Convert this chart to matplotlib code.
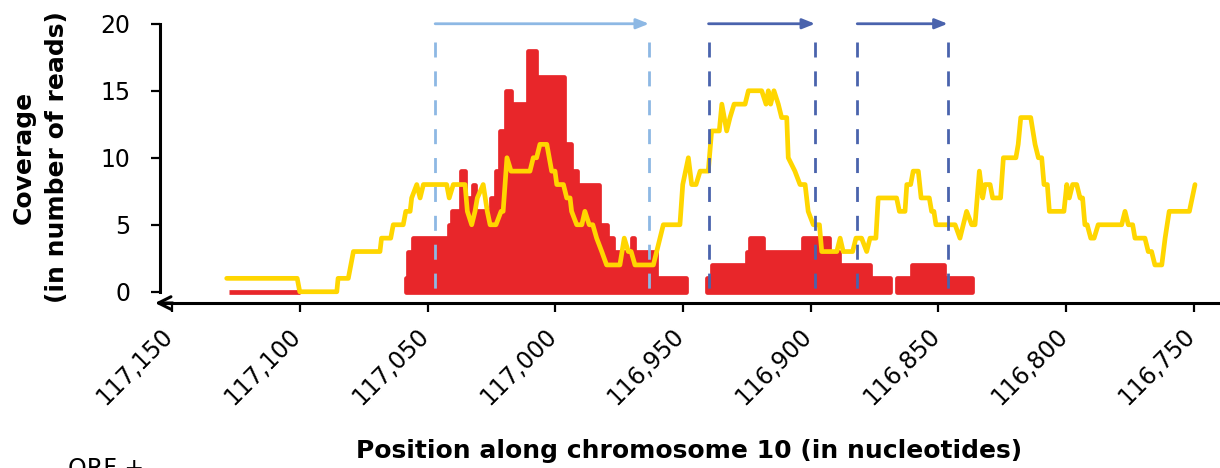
import matplotlib
matplotlib.use('Agg')
import matplotlib.pyplot as plt
from matplotlib.lines import Line2D
from matplotlib.transforms import ScaledTranslation

# coverage of the yellow library, as vertices (position, reads)
yellow_pos = [117128.6, 117101.0, 117100.0, 117085.5, 117085.0, 117081.0, 117079.0, 117068.6, 117068.0, 117064.4,
              117063.4, 117059.5, 117058.5, 117056.8, 117056.2, 117054.2, 117052.9, 117051.6, 117042.5, 117041.5,
              117039.9, 117035.3, 117034.4, 117032.7, 117031.4, 117030.5, 117028.2, 117026.6, 117025.5, 117023.2,
              117021.2, 117020.4, 117018.9, 117017.3, 117009.9, 117008.6, 117007.3, 117006.0, 117003.3, 117001.4,
              117000.1, 116999.4, 116996.8, 116995.5, 116994.2, 116993.6, 116991.6, 116989.6, 116988.4, 116986.7,
              116985.3, 116983.8, 116981.8, 116979.9, 116974.7, 116973.0, 116971.4, 116970.3, 116968.8, 116961.6,
              116960.3, 116957.7, 116951.2, 116950.1, 116947.9, 116946.6, 116944.9, 116943.3, 116940.1, 116938.8,
              116935.8, 116934.8, 116932.9, 116931.6, 116930.0, 116925.7, 116924.4, 116919.2, 116917.5, 116916.6,
              116915.7, 116914.4, 116912.7, 116911.4, 116909.4, 116908.8, 116906.2, 116904.2, 116902.2, 116901.0,
              116899.0, 116896.6, 116895.7, 116889.8, 116888.5, 116887.3, 116883.6, 116882.3, 116880.1, 116878.1,
              116876.8, 116874.5, 116873.6, 116866.4, 116865.3, 116863.1, 116862.4, 116860.9, 116859.9, 116857.9,
              116856.8, 116853.6, 116852.7, 116851.8, 116851.0, 116843.5, 116841.6, 116839.0, 116837.0, 116835.7,
              116834.0, 116832.7, 116831.8, 116829.8, 116828.8, 116825.7, 116824.6, 116819.7, 116818.8, 116817.8,
              116813.9, 116812.2, 116810.9, 116809.6, 116808.7, 116807.4, 116806.6, 116800.9, 116799.8, 116798.8,
              116797.5, 116795.9, 116794.6, 116793.6, 116792.7, 116791.8, 116790.4, 116789.1, 116787.5, 116778.3,
              116777.0, 116775.7, 116774.0, 116773.1, 116769.2, 116767.9, 116766.6, 116765.3, 116762.6, 116761.3,
              116759.7, 116751.8, 116749.6]
yellow_cov = [1, 1, 0, 0, 1, 1, 3, 3, 4, 4,
              5, 5, 6, 6, 7, 8, 7, 8, 8, 7,
              8, 8, 6, 5, 6, 7, 8, 6, 5, 5,
              6, 6, 10, 9, 9, 10, 10, 11, 11, 9,
              9, 8, 8, 7, 7, 6, 5, 5, 6, 5,
              5, 4, 3, 2, 2, 4, 3, 3, 2, 2,
              3, 5, 5, 8, 10, 8, 8, 9, 9, 12,
              12, 14, 12, 13, 14, 14, 15, 15, 14, 15,
              14, 15, 14, 13, 13, 10, 9, 8, 8, 6,
              5, 5, 3, 3, 4, 3, 3, 4, 4, 3,
              4, 4, 7, 7, 6, 6, 8, 8, 9, 9,
              7, 7, 6, 6, 5, 5, 4, 6, 5, 5,
              9, 7, 8, 8, 7, 7, 10, 10, 11, 13,
              13, 11, 10, 10, 8, 8, 6, 6, 8, 7,
              8, 8, 7, 7, 5, 5, 4, 4, 5, 5,
              6, 5, 5, 4, 4, 3, 3, 2, 2, 4,
              6, 6, 8]

# coverage of the red library, as step blocks (edges, reads per step)
red_edges_0 = [117127.7, 117100.0]
red_cov_0 = [0]
red_edges_1 = [117058.6, 117057.5, 117055.6, 117041.6, 117040.6, 117036.7, 117035.4, 117032.1, 117031.5,
               117025.0, 117023.1, 117021.5, 117019.4, 117017.3, 117010.7, 117007.5, 116996.7, 116993.8,
               116991.5, 116982.7, 116979.7, 116977.5, 116969.8, 116969.3, 116960.6, 116948.8]
red_cov_1 = [1, 3, 4, 5, 6, 9, 7, 8, 6, 7, 9, 12, 15, 14, 18, 16, 11, 9, 8, 5, 4, 3, 4, 3, 1]
red_edges_2 = [116940.5, 116938.8, 116924.8, 116923.9, 116918.5, 116903.0, 116892.7, 116888.8, 116876.7, 116868.8]
red_cov_2 = [1, 2, 3, 4, 3, 4, 3, 2, 1]
red_edges_3 = [116866.4, 116860.5, 116847.7, 116836.8]
red_cov_3 = [1, 2, 1]

# ORFs (start, end) and their colours
orf_starts = [117047.0, 116940.0, 116881.8]
orf_ends = [116963.3, 116898.3, 116846.4]
orf_colors = ['#8DB8E4', '#4A63AD', '#4A63AD']

xticks = [117150, 117100, 117050, 117000, 116950, 116900, 116850, 116800, 116750]
yticks = [0, 5, 10, 15, 20]

RED = '#E8262A'
YELLOW = '#FFD600'

plt.rcParams['font.family'] = ['DejaVu Sans']

fig = plt.figure(figsize=(12.2, 4.68), dpi=100)
ax = fig.add_axes([160/1220, 1-303/468, 1058/1220, 283/468])
ax.set_xlim(117154.7, 116740.6)
ax.set_ylim(-0.84, 20.28)

for edges, cov in [(red_edges_0, red_cov_0), (red_edges_1, red_cov_1),
                   (red_edges_2, red_cov_2), (red_edges_3, red_cov_3)]:
    ax.fill_between(edges, cov + [cov[-1]], 0, step='post', facecolor=RED,
                    edgecolor=RED, linewidth=3.4, joinstyle='round', zorder=2)

ax.plot(yellow_pos, yellow_cov, color=YELLOW, lw=3.4, solid_joinstyle='round',
        solid_capstyle='round', zorder=3)

for start, end, c in zip(orf_starts, orf_ends, orf_colors):
    for x in (start, end):
        ax.plot([x, x], [18.66, -0.05], color=c, lw=2, ls=(0, (5.4, 5)), zorder=4)
    ax.annotate('', xy=(end, 20), xytext=(start, 20), annotation_clip=False,
                arrowprops=dict(arrowstyle='-|>,head_length=0.75,head_width=0.3', color=c,
                                lw=2, shrinkA=0, shrinkB=0, mutation_scale=10), zorder=4)

for side in ('top', 'right'):
    ax.spines[side].set_visible(False)
for side in ('left', 'bottom'):
    ax.spines[side].set_linewidth(2.2)
ax.spines['left'].set_bounds(0, 20)

ax.set_yticks(yticks)
ax.set_xticks(xticks)
ax.set_xticklabels([f'{v:,}' for v in xticks], rotation=45, ha='right', va='top',
                   rotation_mode='anchor')
ax.tick_params(axis='y', direction='out', length=6.5, width=1.6, pad=15, labelsize=17)
ax.tick_params(axis='x', direction='out', length=6.5, width=1.6, pad=4, labelsize=17)
shift = ScaledTranslation(-11/100, -6/100, fig.dpi_scale_trans)
for lab in ax.get_xticklabels():
    lab.set_transform(lab.get_transform() + shift)

# arrow head at the left end of the x axis
ax.annotate('', xy=(-0.0047, 0), xycoords='axes fraction', xytext=(0.012, 0),
            annotation_clip=False,
            arrowprops=dict(arrowstyle='->,head_length=0.9,head_width=0.45', color='black',
                            lw=2.2, shrinkA=0, shrinkB=0, mutation_scale=10))

fig.text(40.5/1220, 1-157/468, 'Coverage\n(in number of reads)', rotation=90,
         ha='center', va='center', fontsize=18, fontweight='bold', linespacing=1.5)
fig.text(688.8/1220, 1-458.3/468, 'Position along chromosome 10 (in nucleotides)',
         ha='center', va='baseline', fontsize=18, fontweight='bold')

# legend entry cut off by the bottom edge
fig.add_artist(Line2D([36/1220, 58/1220], [1-470/468]*2, color='#8DB8E4', lw=2.5))
fig.text(68/1220, 1-476/468, 'ORF +', ha='left', va='baseline', fontsize=17)

fig.savefig('out.png', dpi=100)
